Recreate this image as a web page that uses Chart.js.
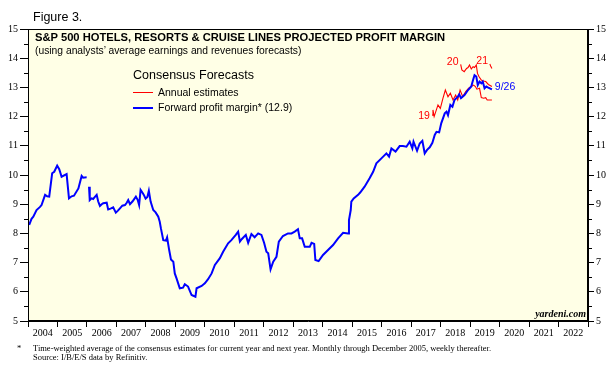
<!DOCTYPE html>
<html>
<head>
  <title>S&amp;P 500 Hotels, Resorts &amp; Cruise Lines Projected Profit Margin</title>
  <script src="https://cdn.jsdelivr.net/npm/chart.js"></script>
  <style>
    body { margin: 0; background: #fff; }
    #wrap { position: relative; width: 610px; height: 376px; }
    #wrap canvas { position: absolute; left: 0; top: 0; }
    .txt { position: absolute; white-space: nowrap; line-height: 1; color: #000; }
    .sans { font-family: "Liberation Sans", Arial, sans-serif; }
    .serif { font-family: "Liberation Serif", "Times New Roman", serif; }
    .key { position: absolute; left: 133px; width: 20px; }
  </style>
</head>
<body>
<div id="wrap">
  <canvas id="myChart" width="610" height="376"></canvas>
  <div class="txt sans" style="left:33px; top:11px; font-size:12.5px;">Figure 3.</div>
  <div class="txt sans" style="left:35px; top:32px; font-size:11.2px; font-weight:bold;">S&amp;P 500 HOTELS, RESORTS &amp; CRUISE LINES PROJECTED PROFIT MARGIN</div>
  <div class="txt sans" style="left:35px; top:46px; font-size:10.3px;">(using analysts’ average earnings and revenues forecasts)</div>
  <div class="txt sans" style="left:133px; top:69px; font-size:12.5px;">Consensus Forecasts</div>
  <div class="key" style="top:92px; height:1px; background:#ff0000;"></div>
  <div class="txt sans" style="left:158px; top:87px; font-size:10.5px;">Annual estimates</div>
  <div class="key" style="top:107px; height:2px; background:#0000ff;"></div>
  <div class="txt sans" style="left:158px; top:102px; font-size:10.5px;">Forward profit margin* (12.9)</div>
  <div class="txt serif" style="right:24px; top:309px; font-size:10px; font-style:italic; font-weight:bold;">yardeni.com</div>
  <div class="txt serif" style="left:17px; top:344px; font-size:8.5px;">*</div>
  <div class="txt serif" style="left:33px; top:344px; font-size:8.5px;">Time-weighted average of the consensus estimates for current year and next year. Monthly through December 2005, weekly thereafter.</div>
  <div class="txt serif" style="left:33px; top:353px; font-size:8.5px;">Source: I/B/E/S data by Refinitiv.</div>
</div>
<script>
// year labels on the x axis
const years = [2004, 2005, 2006, 2007, 2008, 2009, 2010, 2011, 2012, 2013, 2014, 2015, 2016, 2017, 2018, 2019, 2020, 2021, 2022];

// forward profit margin, monthly through 2005
const monthlyDates = [2004.04, 2004.12, 2004.18, 2004.29, 2004.40, 2004.46, 2004.58, 2004.65, 2004.72, 2004.82, 2004.89, 2004.99,
  2005.06, 2005.14, 2005.31, 2005.39, 2005.48, 2005.56, 2005.71, 2005.82, 2005.87, 2005.99];
const monthlyMargin = [8.29, 8.50, 8.57, 8.80, 8.90, 8.97, 9.32, 9.27, 9.26, 10.06, 10.11, 10.32,
  10.20, 9.94, 10.03, 9.20, 9.27, 9.29, 9.54, 9.97, 9.91, 9.92];

// forward profit margin, weekly thereafter
const weeklyDates = [2006.07, 2006.09, 2006.10, 2006.16, 2006.21, 2006.27, 2006.33, 2006.38, 2006.44, 2006.50, 2006.55, 2006.67, 2006.72, 2006.80, 2006.89, 2006.98,
  2007.05, 2007.12, 2007.20, 2007.29, 2007.35, 2007.40, 2007.46, 2007.55, 2007.66, 2007.72, 2007.77, 2007.82, 2007.88, 2007.93, 2007.99,
  2008.05, 2008.10, 2008.16, 2008.25, 2008.33, 2008.42, 2008.47, 2008.51, 2008.59, 2008.68, 2008.72, 2008.79, 2008.85, 2008.93, 2008.98,
  2009.04, 2009.15, 2009.26, 2009.32, 2009.43, 2009.55, 2009.68, 2009.72, 2009.89,
  2010.00, 2010.11, 2010.23, 2010.34, 2010.51, 2010.62, 2010.79, 2010.90,
  2011.05, 2011.13, 2011.19, 2011.25, 2011.39, 2011.47, 2011.58, 2011.69, 2011.81, 2011.92,
  2012.01, 2012.09, 2012.15, 2012.23, 2012.32, 2012.43, 2012.51, 2012.65, 2012.82, 2012.94,
  2013.05, 2013.16, 2013.22, 2013.30, 2013.39, 2013.56, 2013.62, 2013.71, 2013.75, 2013.86,
  2014.01, 2014.18, 2014.35, 2014.52, 2014.69, 2014.86, 2014.89, 2014.95, 2014.97,
  2015.05, 2015.20, 2015.27, 2015.42, 2015.59, 2015.71, 2015.82, 2015.99,
  2016.16, 2016.25, 2016.33, 2016.47, 2016.61, 2016.72, 2016.84, 2016.95,
  2017.04, 2017.08, 2017.20, 2017.29, 2017.38, 2017.46, 2017.54, 2017.63, 2017.72, 2017.80, 2017.86, 2017.95,
  2018.02, 2018.14, 2018.20, 2018.25, 2018.33, 2018.40, 2018.47, 2018.58, 2018.63, 2018.69, 2018.81, 2018.93,
  2019.04, 2019.10, 2019.15, 2019.21, 2019.26, 2019.32, 2019.38, 2019.43, 2019.49, 2019.55, 2019.60, 2019.74];
const weeklyMargin = [9.60, 9.55, 9.14, 9.20, 9.18, 9.25, 9.32, 9.10, 8.94, 9.00, 9.03, 9.05, 8.82, 8.85, 8.89, 8.71,
  8.78, 8.86, 8.95, 8.97, 9.05, 9.14, 9.00, 9.10, 9.26, 9.15, 8.97, 9.49, 9.40, 9.32, 9.19,
  9.25, 9.46, 9.09, 8.80, 8.72, 8.57, 8.40, 8.17, 7.77, 7.75, 7.86, 7.43, 7.11, 7.03, 6.63,
  6.46, 6.12, 6.14, 6.26, 6.18, 5.89, 5.83, 6.12, 6.20,
  6.29, 6.43, 6.63, 6.92, 7.15, 7.37, 7.66, 7.77,
  7.95, 8.06, 7.72, 7.80, 7.95, 7.68, 7.98, 7.87, 8.00, 7.95,
  7.68, 7.37, 7.32, 6.77, 7.03, 7.20, 7.72, 7.91, 8.00, 8.00,
  8.06, 8.14, 7.83, 7.83, 7.54, 7.54, 7.68, 7.64, 7.09, 7.05,
  7.26, 7.43, 7.60, 7.83, 8.02, 8.00, 8.46, 8.80, 9.09,
  9.20, 9.32, 9.40, 9.60, 9.89, 10.11, 10.40, 10.57,
  10.74, 10.63, 10.91, 10.80, 10.99, 10.99, 10.97, 11.14,
  10.91, 11.14, 10.83, 11.08, 11.17, 10.74, 10.86, 10.95, 11.10, 11.37, 11.48, 11.46,
  11.77, 12.11, 12.17, 12.05, 12.40, 12.34, 12.57, 12.68, 12.76, 12.63, 12.74, 12.91,
  13.03, 13.25, 13.42, 13.37, 13.08, 13.20, 13.14, 13.20, 12.97, 13.03, 13.00, 12.93];

// annual consensus estimates
const est2019Dates = [2017.71, 2017.74, 2017.78, 2017.91, 2017.99, 2018.08, 2018.16, 2018.25, 2018.33, 2018.42, 2018.51, 2018.58, 2018.66, 2018.75, 2018.85, 2018.95,
  2019.04, 2019.12, 2019.18, 2019.23, 2019.32, 2019.38, 2019.46, 2019.53, 2019.58, 2019.74];
const est2019 = [12.05, 12.23, 12.00, 12.40, 12.28, 12.63, 12.91, 12.68, 12.80, 12.57, 12.74, 12.57, 12.91, 12.68, 12.86, 12.97,
  13.03, 13.08, 13.03, 12.94, 12.97, 12.65, 12.63, 12.65, 12.57, 12.57];
const est2020Dates = [2018.68, 2018.72, 2018.80, 2018.88, 2018.93, 2018.98, 2019.04, 2019.10, 2019.15, 2019.21, 2019.25, 2019.30, 2019.38, 2019.45, 2019.53, 2019.62, 2019.74];
const est2020 = [13.79, 13.60, 13.54, 13.65, 13.68, 13.77, 13.63, 13.71, 13.68, 13.77, 13.48, 13.37, 13.25, 13.22, 13.20, 13.10, 13.03];
const est2021Dates = [2019.67, 2019.70, 2019.74];
const est2021 = [13.80, 13.72, 13.65];

// labels next to the lines
const lineLabels = [
  { text: '19', x: 2017.58, y: 12.0, color: '#ff0000' },
  { text: '20', x: 2018.55, y: 13.85, color: '#ff0000' },
  { text: '21', x: 2019.55, y: 13.9, color: '#ff0000' },
  { text: '9/26', x: 2019.84, y: 13.0, color: '#0000ff' }
];

const pts = (xs, ys) => xs.map((x, i) => ({ x: x, y: ys[i] }));
const forward = pts(monthlyDates, monthlyMargin).concat([{ x: 2006.03, y: null }], pts(weeklyDates, weeklyMargin));

const tickFont = { family: '"Liberation Serif", "Times New Roman", serif', size: 10 };

const chartDeco = {
  id: 'chartDeco',
  beforeDraw(chart) {
    const a = chart.chartArea, ctx = chart.ctx;
    ctx.save();
    ctx.fillStyle = '#ffffe6';
    ctx.fillRect(a.left, a.top, a.right - a.left, a.bottom - a.top);
    ctx.restore();
  },
  afterDraw(chart) {
    const a = chart.chartArea, ctx = chart.ctx;
    ctx.save();
    ctx.strokeStyle = '#000';
    ctx.lineWidth = 1;
    ctx.strokeRect(a.left + 0.5, a.top + 0.5, a.right - a.left - 1, a.bottom - a.top - 1);
    // minor ticks at the half units
    const ys = chart.scales.y;
    ctx.beginPath();
    for (let v = 5.5; v < 15; v += 1) {
      const p = Math.round(ys.getPixelForValue(v)) + 0.5;
      ctx.moveTo(a.left - 4, p); ctx.lineTo(a.left, p);
      ctx.moveTo(a.right, p); ctx.lineTo(a.right + 4, p);
    }
    ctx.stroke();
    // line labels
    ctx.font = '10.5px "Liberation Sans", Arial, sans-serif';
    ctx.textBaseline = 'middle';
    lineLabels.forEach(l => {
      ctx.fillStyle = l.color;
      ctx.textAlign = 'left';
      ctx.fillText(l.text, chart.scales.x.getPixelForValue(l.x) - (l.text === '9/26' ? 0 : 10), ys.getPixelForValue(l.y));
    });
    ctx.restore();
  }
};

const yAxis = (pos, len, w) => ({
  type: 'linear',
  position: pos,
  min: 5,
  max: 15,
  ticks: { stepSize: 1, font: tickFont, color: '#000', padding: 2 },
  grid: { drawOnChartArea: false, tickLength: len, color: '#000' },
  border: { color: '#000' },
  afterFit: s => { s.width = w; }
});

new Chart(document.getElementById('myChart'), {
  type: 'line',
  data: {
    datasets: [
      { data: forward, borderColor: '#0000ff', borderWidth: 2, pointRadius: 0, spanGaps: false },
      { data: pts(est2019Dates, est2019), borderColor: '#ff0000', borderWidth: 1.1, pointRadius: 0 },
      { data: pts(est2020Dates, est2020), borderColor: '#ff0000', borderWidth: 1.1, pointRadius: 0 },
      { data: pts(est2021Dates, est2021), borderColor: '#ff0000', borderWidth: 1.1, pointRadius: 0 }
    ]
  },
  options: {
    responsive: false,
    animation: false,
    layout: { padding: { top: 29, left: 0, right: 0, bottom: 0 } },
    plugins: { legend: { display: false }, tooltip: { enabled: false } },
    scales: {
      x: {
        type: 'linear',
        min: 2004,
        max: 2023,
        afterBuildTicks: s => { s.ticks = years.concat([2023]).map(v => ({ value: v })); },
        ticks: {
          font: tickFont, color: '#000', maxRotation: 0, autoSkip: false, padding: 0,
          labelOffset: 14.7,
          callback: v => (v < 2023 ? String(v) : '')
        },
        grid: { drawOnChartArea: false, tickLength: 6, color: '#000' },
        border: { color: '#000' },
        afterFit: s => { s.height = 55; }
      },
      y: yAxis('left', 8, 28),
      y2: yAxis('right', 6, 22)
    }
  },
  plugins: [chartDeco]
});
</script>
</body>
</html>
